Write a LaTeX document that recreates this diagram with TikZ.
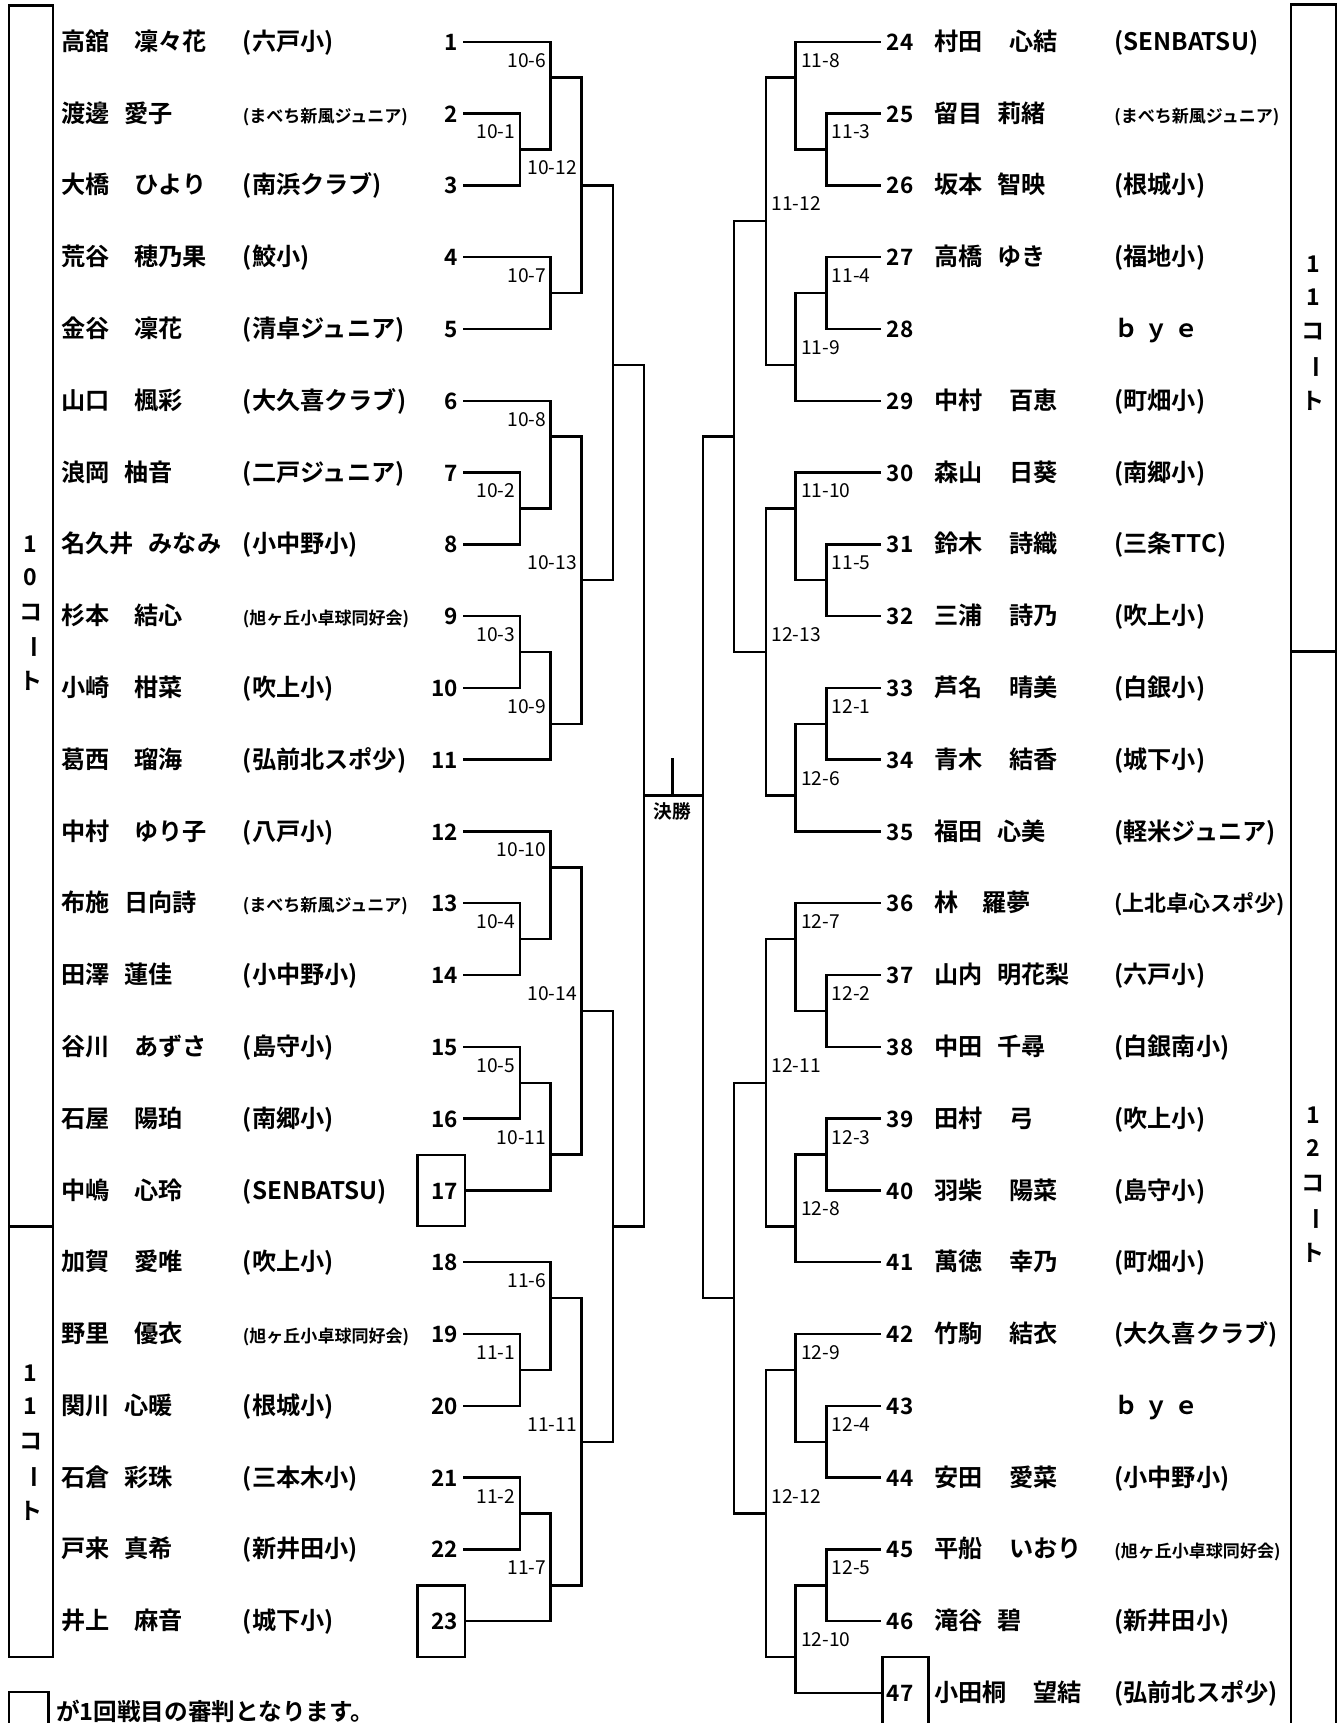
\documentclass[tikz,border=0pt]{standalone}
\usepackage{fontspec}
\setmainfont{Noto Sans CJK JP}
\newfontfamily\jpb{Noto Sans CJK JP Bold}
\newcommand{\hp}[1]{(38+32.667*(#1))}
\tikzset{
  nm/.style={anchor=west,inner sep=0pt,yshift=-4pt,text height=0.88em,text depth=0.12em,font=\jpb\fontsize{22}{22}\selectfont},
  tm/.style={nm},
  numL/.style={anchor=east,inner sep=0pt,yshift=-4pt,text height=0.88em,text depth=0.12em,font=\jpb\fontsize{20.5}{20.5}\selectfont},
  numR/.style={numL,anchor=west},
  lbl/.style={inner sep=0pt,yshift=-3pt,text height=0.88em,text depth=0.12em,font=\fontsize{17.5}{17.5}\selectfont},
  vt/.style={inner sep=0pt,font=\jpb\fontsize{21}{21}\selectfont},
  refbox/.style={draw,minimum width=43pt,minimum height=65pt,inner sep=0pt},
}
\newcommand{\sm}[1]{{\fontsize{15.5}{16}\selectfont #1}}
\newcommand{\Lrow}[3]{%
  \node[numL] (n#1) at (418,{\hp{2*(#1-1)}}) {#1};
  \node[nm] (name#1) at (55,{\hp{2*(#1-1)}}) {#2};
  \node[tm] (team#1) at (220,{\hp{2*(#1-1)}}) {#3};}
\newcommand{\Rrow}[3]{%
  \node[numR] (n#1) at (806,{\hp{2*(#1-24)}}) {#1};
  \node[nm] (name#1) at (849,{\hp{2*(#1-24)}}) {#2};
  \node[tm] (team#1) at (1013,{\hp{2*(#1-24)}}) {#3};}
\newcommand{\entL}[2]{\draw (422,{\hp{2*(#1-1)}}) -- (#2,{\hp{2*(#1-1)}});}
\newcommand{\entR}[2]{\draw (801,{\hp{2*(#1-24)}}) -- (#2,{\hp{2*(#1-24)}});}
\newcommand{\mt}[5]{\draw (#1,{\hp{#2}}) -- (#1,{\hp{#3}}); \draw (#1,{\hp{#4}}) -- (#5,{\hp{#4}});}
\newcommand{\lL}[4]{\node[lbl,anchor=east] (#4) at ({#1-3},{\hp{#2}}) {#3};}
\newcommand{\lR}[4]{\node[lbl,anchor=west] (#4) at ({#1+4},{\hp{#2}}) {#3};}
\newcommand{\vtxt}[5]{%
  \node[vt] (#5a) at (#1,#2) {#3};
  \node[vt] (#5b) at (#1,{#2+30}) {#4};
  \node[vt] (#5c) at (#1,{#2+62}) {コ};
  \node[vt,rotate=-90] (#5d) at (#1,{#2+94}) {ー};
  \node[vt] (#5e) at (#1,{#2+125}) {ト};}
\begin{document}
\begin{tikzpicture}[x=1pt,y=-1pt,line width=2.2pt,line cap=rect]
\useasboundingbox[fill=white] (0,0) rectangle (1223,1568);
% court boxes
\draw (8,5) rectangle (48,1116);
\draw (8,1116) rectangle (48,1508);
\draw (1175,4) rectangle (1216,593);
\draw (1175,1590) -- (1175,593) -- (1216,593) -- (1216,1590);
\vtxt{28}{495}{1}{0}{ct10}
\vtxt{28}{1250}{1}{1}{ct11}
\vtxt{1195}{240}{1}{1}{ct11r}
\vtxt{1195}{1015}{1}{2}{ct12}
% referee boxes
\node[refbox] (b17) at (401.5,{\hp{32}}) {};
\node[refbox] (b23) at (401.5,{\hp{44}}) {};
\draw (803,1590) -- (803,{\hp{45}}) -- (845,{\hp{45}}) -- (845,1590);
\coordinate (b47) at (803,{\hp{46}});
% legend
\draw (8,1590) -- (8,1540) -- (44,1540) -- (44,1590);
\node[nm,font=\jpb\fontsize{21.5}{22}\selectfont] (legend) at (50,1558) {が1回戦目の審判となります。};
% left players
\Lrow{1}{高舘\hspace{1em}凜々花}{(六戸小)}
\Lrow{2}{渡邊\hspace{0.6em}愛子}{\sm{(まべち新風ジュニア)}}
\Lrow{3}{大橋\hspace{1em}ひより}{(南浜クラブ)}
\Lrow{4}{荒谷\hspace{1em}穂乃果}{(鮫小)}
\Lrow{5}{金谷\hspace{1em}凜花}{(清卓ジュニア)}
\Lrow{6}{山口\hspace{1em}楓彩}{(大久喜クラブ)}
\Lrow{7}{浪岡\hspace{0.6em}柚音}{(二戸ジュニア)}
\Lrow{8}{名久井\hspace{0.6em}みなみ}{(小中野小)}
\Lrow{9}{杉本\hspace{1em}結心}{\sm{(旭ヶ丘小卓球同好会)}}
\Lrow{10}{小崎\hspace{1em}柑菜}{(吹上小)}
\Lrow{11}{葛西\hspace{1em}瑠海}{(弘前北スポ少)}
\Lrow{12}{中村\hspace{1em}ゆり子}{(八戸小)}
\Lrow{13}{布施\hspace{0.6em}日向詩}{\sm{(まべち新風ジュニア)}}
\Lrow{14}{田澤\hspace{0.6em}蓮佳}{(小中野小)}
\Lrow{15}{谷川\hspace{1em}あずさ}{(島守小)}
\Lrow{16}{石屋\hspace{1em}陽珀}{(南郷小)}
\Lrow{17}{中嶋\hspace{1em}心玲}{(SENBATSU)}
\Lrow{18}{加賀\hspace{1em}愛唯}{(吹上小)}
\Lrow{19}{野里\hspace{1em}優衣}{\sm{(旭ヶ丘小卓球同好会)}}
\Lrow{20}{関川\hspace{0.6em}心暖}{(根城小)}
\Lrow{21}{石倉\hspace{0.6em}彩珠}{(三本木小)}
\Lrow{22}{戸来\hspace{0.6em}真希}{(新井田小)}
\Lrow{23}{井上\hspace{1em}麻音}{(城下小)}
% right players
\Rrow{24}{村田\hspace{1.1em}心結}{(SENBATSU)}
\Rrow{25}{留目\hspace{0.6em}莉緒}{\sm{(まべち新風ジュニア)}}
\Rrow{26}{坂本\hspace{0.6em}智映}{(根城小)}
\Rrow{27}{高橋\hspace{0.6em}ゆき}{(福地小)}
\Rrow{28}{}{ｂ\hspace{0.25em}ｙ\hspace{0.25em}ｅ}
\Rrow{29}{中村\hspace{1.1em}百恵}{(町畑小)}
\Rrow{30}{森山\hspace{1.1em}日葵}{(南郷小)}
\Rrow{31}{鈴木\hspace{1.1em}詩織}{(三条TTC)}
\Rrow{32}{三浦\hspace{1.1em}詩乃}{(吹上小)}
\Rrow{33}{芦名\hspace{1.1em}晴美}{(白銀小)}
\Rrow{34}{青木\hspace{1.1em}結香}{(城下小)}
\Rrow{35}{福田\hspace{0.6em}心美}{(軽米ジュニア)}
\Rrow{36}{林\hspace{1em}羅夢}{{\fontsize{20}{20}\selectfont(上北卓心スポ少)}}
\Rrow{37}{山内\hspace{0.6em}明花梨}{(六戸小)}
\Rrow{38}{中田\hspace{0.6em}千尋}{(白銀南小)}
\Rrow{39}{田村\hspace{1.1em}弓}{(吹上小)}
\Rrow{40}{羽柴\hspace{1.1em}陽菜}{(島守小)}
\Rrow{41}{萬徳\hspace{1.1em}幸乃}{(町畑小)}
\Rrow{42}{竹駒\hspace{1.1em}結衣}{(大久喜クラブ)}
\Rrow{43}{}{ｂ\hspace{0.25em}ｙ\hspace{0.25em}ｅ}
\Rrow{44}{安田\hspace{1.1em}愛菜}{(小中野小)}
\Rrow{45}{平船\hspace{1.1em}いおり}{\sm{(旭ヶ丘小卓球同好会)}}
\Rrow{46}{滝谷\hspace{0.6em}碧}{(新井田小)}
\Rrow{47}{小田桐\hspace{1.1em}望結}{(弘前北スポ少)}
% left entry lines (c1=473, c2=501)
\entL{1}{501}\entL{2}{473}\entL{3}{473}\entL{4}{501}\entL{5}{501}
\entL{6}{501}\entL{7}{473}\entL{8}{473}\entL{9}{473}\entL{10}{473}
\entL{11}{501}\entL{12}{501}\entL{13}{473}\entL{14}{473}\entL{15}{473}
\entL{16}{473}\entL{18}{501}\entL{19}{473}\entL{20}{473}\entL{21}{473}
\entL{22}{473}
\draw (b17.east) -- (501,{\hp{32}});
\draw (b23.east) -- (501,{\hp{44}});
% left matches
\mt{473}{2}{4}{3}{501}\mt{473}{12}{14}{13}{501}\mt{473}{16}{18}{17}{501}
\mt{473}{24}{26}{25}{501}\mt{473}{28}{30}{29}{501}\mt{473}{36}{38}{37}{501}
\mt{473}{40}{42}{41}{501}
\mt{501}{0}{3}{1}{529}\mt{501}{6}{8}{7}{529}\mt{501}{10}{13}{11}{529}
\mt{501}{17}{20}{19}{529}\mt{501}{22}{25}{23}{529}\mt{501}{29}{32}{31}{529}
\mt{501}{34}{37}{35}{529}\mt{501}{41}{44}{43}{529}
\mt{529}{1}{7}{4}{558}\mt{529}{11}{19}{15}{558}\mt{529}{23}{31}{27}{558}
\mt{529}{35}{43}{39}{558}
\mt{558}{4}{15}{9}{586}\mt{558}{27}{39}{33}{586}
\mt{586}{9}{33}{21}{640}
% right entry lines (r3=724, r4=752)
\entR{24}{724}\entR{25}{752}\entR{26}{752}\entR{27}{752}\entR{28}{752}
\entR{29}{724}\entR{30}{724}\entR{31}{752}\entR{32}{752}\entR{33}{752}
\entR{34}{752}\entR{35}{724}\entR{36}{724}\entR{37}{752}\entR{38}{752}
\entR{39}{752}\entR{40}{752}\entR{41}{724}\entR{42}{724}\entR{43}{752}
\entR{44}{752}\entR{45}{752}\entR{46}{752}
\draw (b47) -- (724,{\hp{46}});
% right matches
\mt{752}{2}{4}{3}{724}\mt{752}{6}{8}{7}{724}\mt{752}{14}{16}{15}{724}
\mt{752}{18}{20}{19}{724}\mt{752}{26}{28}{27}{724}\mt{752}{30}{32}{31}{724}
\mt{752}{38}{40}{39}{724}\mt{752}{42}{44}{43}{724}
\mt{724}{0}{3}{1}{697}\mt{724}{7}{10}{9}{697}\mt{724}{12}{15}{13}{697}
\mt{724}{19}{22}{21}{697}\mt{724}{24}{27}{25}{697}\mt{724}{31}{34}{33}{697}
\mt{724}{36}{39}{37}{697}\mt{724}{43}{46}{45}{697}
\mt{697}{1}{9}{5}{668}\mt{697}{13}{21}{17}{668}\mt{697}{25}{33}{29}{668}
\mt{697}{37}{45}{41}{668}
\mt{668}{5}{17}{11}{640}\mt{668}{29}{41}{35}{640}
\draw (640,{\hp{11}}) -- (640,{\hp{35}});
% final
\draw (612,{\hp{20}}) -- (612,{\hp{21}});
\node[lbl,yshift=0pt,font=\jpb\fontsize{17}{17}\selectfont] (final) at (612,738) {決勝};
% left labels
\lL{501}{0.5}{10-6}{m106}\lL{473}{2.5}{10-1}{m101}\lL{529}{3.5}{10-12}{m1012}
\lL{501}{6.5}{10-7}{m107}\lL{501}{10.5}{10-8}{m108}\lL{473}{12.5}{10-2}{m102}
\lL{529}{14.5}{10-13}{m1013}\lL{473}{16.5}{10-3}{m103}\lL{501}{18.5}{10-9}{m109}
\lL{501}{22.5}{10-10}{m1010}\lL{473}{24.5}{10-4}{m104}\lL{529}{26.5}{10-14}{m1014}
\lL{473}{28.5}{10-5}{m105}\lL{501}{30.5}{10-11}{m1011}\lL{501}{34.5}{11-6}{m116}
\lL{473}{36.5}{11-1}{m111}\lL{529}{38.5}{11-11}{m1111}\lL{473}{40.5}{11-2}{m112}
\lL{501}{42.5}{11-7}{m117}
% right labels
\lR{724}{0.5}{11-8}{m118}\lR{752}{2.5}{11-3}{m113}\lR{697}{4.5}{11-12}{m1112}
\lR{752}{6.5}{11-4}{m114}\lR{724}{8.5}{11-9}{m119}\lR{724}{12.5}{11-10}{m1110}
\lR{752}{14.5}{11-5}{m115}\lR{697}{16.5}{12-13}{m1213}\lR{752}{18.5}{12-1}{m121}
\lR{724}{20.5}{12-6}{m126}\lR{724}{24.5}{12-7}{m127}\lR{752}{26.5}{12-2}{m122}
\lR{697}{28.5}{12-11}{m1211}\lR{752}{30.5}{12-3}{m123}\lR{724}{32.5}{12-8}{m128}
\lR{724}{36.5}{12-9}{m129}\lR{752}{38.5}{12-4}{m124}\lR{697}{40.5}{12-12}{m1212}
\lR{752}{42.5}{12-5}{m125}\lR{724}{44.5}{12-10}{m1210}
\end{tikzpicture}
\end{document}
